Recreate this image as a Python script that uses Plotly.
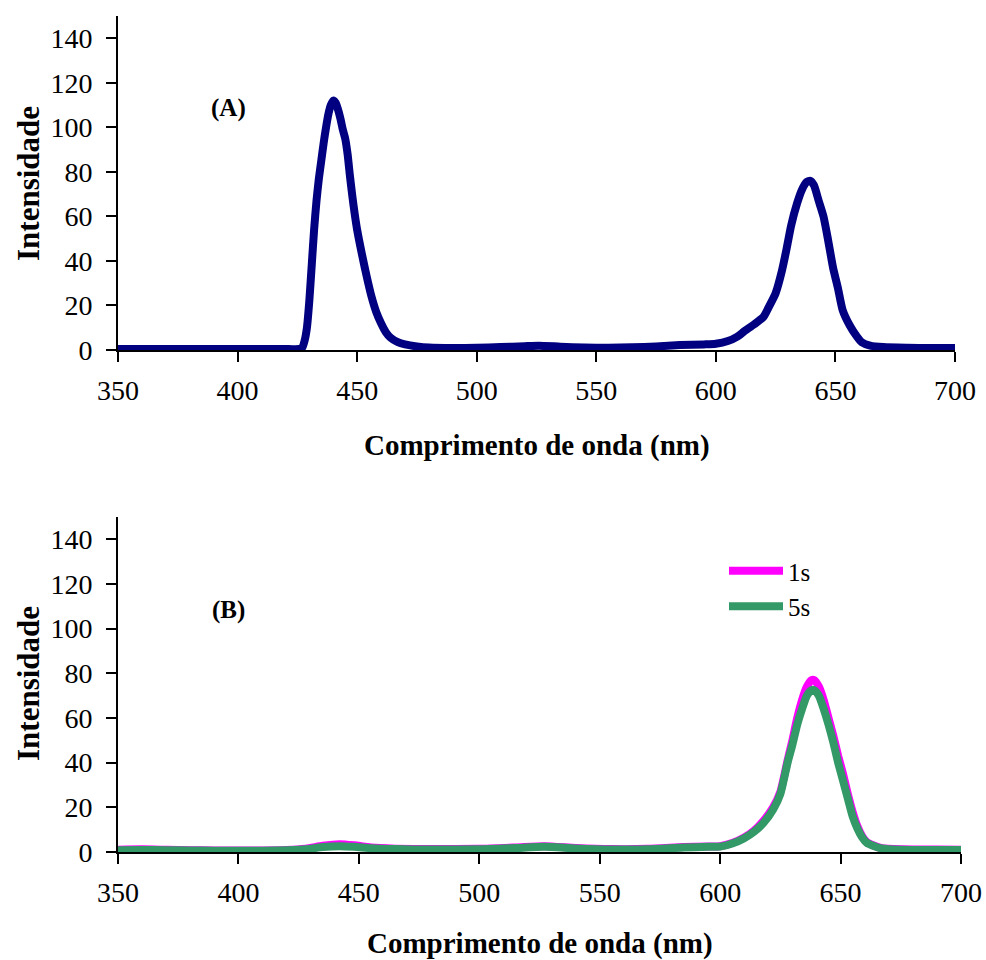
import plotly.graph_objects as go

# ---------------- data ----------------
wl_a = [350, 360, 370, 380, 390, 400, 410, 420, 426, 427, 428, 429, 430, 431, 432, 433, 434, 435,
        436, 437, 438, 439, 440, 441, 442, 443, 444, 445, 446, 447, 448, 449, 450, 452, 454, 456,
        458, 460, 462, 464, 467, 470, 475, 480, 490, 500, 510, 520, 526, 535, 545, 555, 565, 575,
        585, 595, 600, 605, 609, 612, 616, 620, 622, 625, 627.5, 629.5, 631.5, 634, 636, 638, 639.5,
        641, 643, 645, 647, 649, 651, 653, 656, 659, 661, 664.5, 670, 680, 690, 700]
int_a = [0.5, 0.5, 0.5, 0.4, 0.4, 0.4, 0.4, 0.4, 0.5, 1.0, 4, 10, 22, 38, 54, 67, 77, 85,
         93, 100, 106, 110, 112, 111, 108, 104, 99, 95, 88, 78, 69, 61, 54, 43, 33, 24,
         17, 12, 8, 5.5, 3.5, 2.5, 1.6, 1.1, 0.9, 1.0, 1.3, 1.7, 1.9, 1.5, 1.1, 1.0, 1.2, 1.6,
         2.2, 2.5, 2.8, 4, 6, 8.5, 11.5, 15, 19, 25.5, 35, 45, 56, 66, 72, 75.5, 76,
         74, 67, 60, 49, 37, 28, 18, 11, 6, 3.5, 2.0, 1.3, 1.0, 0.9, 0.9]

wl_b = [350, 360, 370, 380, 390, 400, 410, 420, 428, 435, 442, 448, 455, 465, 480, 500, 515, 527,
        540, 555, 570, 585, 595, 600, 605, 610, 614, 618, 622, 625, 628, 630, 632, 634, 636, 638,
        639, 641, 643, 645, 647, 649, 651, 653, 655, 657, 659, 661, 663.5, 667, 675, 690, 700]
int_b_1s = [1.0, 1.2, 1.0, 0.8, 0.7, 0.7, 0.7, 0.9, 1.5, 2.8, 3.5, 3.0, 2.0, 1.5, 1.3, 1.4, 2.0, 2.6,
            1.8, 1.3, 1.4, 2.2, 2.5, 2.6, 4.0, 6.5, 9.5, 14, 20, 27, 41, 50, 60, 68, 74, 77,
            77, 74, 68, 60, 52, 43, 35, 26, 18, 11.5, 7, 4.3, 3.0, 1.7, 1.2, 1.1, 1.0]
int_b_5s = [0.8, 0.9, 0.8, 0.7, 0.6, 0.6, 0.6, 0.8, 1.2, 2.2, 2.6, 2.3, 1.7, 1.3, 1.1, 1.2, 1.8, 2.3,
            1.6, 1.1, 1.2, 2.0, 2.3, 2.4, 3.8, 6.2, 9.0, 13, 19, 26, 40, 48, 57, 64, 70, 72.5,
            72.5, 70, 64, 57, 49, 40, 32, 24, 16, 10.5, 6.5, 4.0, 2.8, 1.6, 1.0, 0.9, 0.9]

x_ticks = [350, 400, 450, 500, 550, 600, 650, 700]
y_ticks = [0, 20, 40, 60, 80, 100, 120, 140]
x_title = "Comprimento de onda (nm)"
y_title = "Intensidade"

# ---------------- figure ----------------
W, H = 986, 960
FONT = "Liberation Serif, Times New Roman, serif"

fig = go.Figure()
fig.add_trace(go.Scatter(x=wl_a, y=int_a, mode="lines", showlegend=False,
                         line=dict(color="#000080", width=8, shape="spline", smoothing=0.6),
                         xaxis="x", yaxis="y"))
fig.add_trace(go.Scatter(x=wl_b, y=int_b_1s, mode="lines", name="1s", legendgroup="g1",
                         line=dict(color="#FF00FF", width=8, shape="spline", smoothing=0.6),
                         xaxis="x2", yaxis="y2"))
fig.add_trace(go.Scatter(x=wl_b, y=int_b_5s, mode="lines", name="5s", legendgroup="g2",
                         line=dict(color="#339966", width=8, shape="spline", smoothing=0.6),
                         xaxis="x2", yaxis="y2"))


def px_x(p):
    return p / W


def px_y(p):
    return 1 - p / H


axis_common = dict(showline=True, linecolor="black", linewidth=2, ticks="outside", ticklen=10,
                   tickwidth=2, tickcolor="black", showgrid=False, zeroline=False,
                   automargin=False,
                   tickfont=dict(family=FONT, size=28, color="black"))

fig.update_layout(
    width=W, height=H, margin=dict(l=0, r=0, t=0, b=0, autoexpand=False),
    paper_bgcolor="white", plot_bgcolor="white",
    xaxis=dict(domain=[px_x(118), px_x(955)], range=[350, 700], tickvals=x_ticks,
               anchor="y", ticklabelstandoff=4, **axis_common),
    yaxis=dict(domain=[px_y(350), px_y(16)], range=[0, 150], tickvals=y_ticks,
               anchor="x", ticklabelstandoff=8, **axis_common),
    xaxis2=dict(domain=[px_x(118), px_x(961)], range=[350, 700], tickvals=x_ticks,
                anchor="y2", ticklabelstandoff=4, **axis_common),
    yaxis2=dict(domain=[px_y(852), px_y(517)], range=[0, 150], tickvals=y_ticks,
                anchor="x2", ticklabelstandoff=8, **axis_common),
    legend=dict(x=px_x(724), y=px_y(548), xanchor="left", yanchor="top",
                bgcolor="rgba(0,0,0,0)", font=dict(family=FONT, size=25, color="black"),
                tracegroupgap=0, traceorder="grouped", itemwidth=54),
    showlegend=True,
)

annotations = [
    dict(text="<b>(A)</b>", x=px_x(228), y=px_y(108), size=25),
    dict(text="<b>(B)</b>", x=px_x(228), y=px_y(610), size=25),
    dict(text="<b>%s</b>" % x_title, x=px_x(537), y=px_y(445), size=29),
    dict(text="<b>%s</b>" % x_title, x=px_x(540), y=px_y(943), size=29),
    dict(text="<b>%s</b>" % y_title, x=px_x(28), y=px_y(184), size=31, textangle=-90),
    dict(text="<b>%s</b>" % y_title, x=px_x(28), y=px_y(684), size=31, textangle=-90),
]
for a in annotations:
    size = a.pop("size")
    fig.add_annotation(xref="paper", yref="paper", showarrow=False,
                       xanchor="center", yanchor="middle",
                       font=dict(family=FONT, size=size, color="black"), **a)

fig.write_html("out.html")
